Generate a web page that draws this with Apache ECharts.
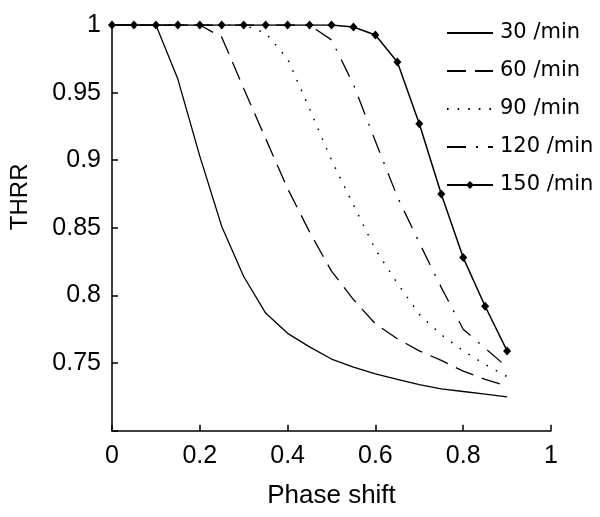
<!DOCTYPE html>
<html>
<head>
<meta charset="utf-8">
<script src="https://cdn.jsdelivr.net/npm/echarts@6/dist/echarts.min.js"></script>
<style>
html,body{margin:0;padding:0;background:#fff;}
#chart{width:600px;height:517px;}
</style>
</head>
<body>
<div id="chart"></div>
<script>
// Phase shift samples (x)
const phaseShift = [0, 0.05, 0.1, 0.15, 0.2, 0.25, 0.3, 0.35, 0.4, 0.45, 0.5, 0.55, 0.6, 0.65, 0.7, 0.75, 0.8, 0.85, 0.9];
// THRR values per heart rate
const thrr30  = [1, 1, 1, 0.960, 0.903, 0.851, 0.814, 0.787, 0.772, 0.762, 0.753, 0.747, 0.742, 0.738, 0.734, 0.731, 0.729, 0.727, 0.725];
const thrr60  = [1, 1, 1, 1, 1, 0.991, 0.953, 0.916, 0.879, 0.847, 0.818, 0.797, 0.779, 0.768, 0.759, 0.752, 0.744, 0.738, 0.733];
const thrr90  = [1, 1, 1, 1, 1, 1, 1, 0.994, 0.975, 0.938, 0.900, 0.867, 0.834, 0.809, 0.786, 0.771, 0.759, 0.749, 0.740];
const thrr120 = [1, 1, 1, 1, 1, 1, 1, 1, 1, 1, 0.989, 0.956, 0.914, 0.873, 0.839, 0.806, 0.775, 0.761, 0.747];
const thrr150 = [1, 1, 1, 1, 1, 1, 1, 1, 1, 1, 1, 0.9985, 0.9926, 0.9727, 0.927, 0.875, 0.828, 0.792, 0.759];
const seriesNames = ['30 /min', '60 /min', '90 /min', '120 /min', '150 /min'];

const FONT = "'Liberation Sans', Arial, sans-serif";
const LEGEND_FONT = "'DejaVu Sans', sans-serif";
const pairs = arr => phaseShift.map((x, i) => [x, arr[i]]);

const chart = echarts.init(document.getElementById('chart'), null, {renderer: 'canvas'});
const lineBase = {type: 'line', smooth: false, silent: true, symbol: 'none', z: 2};
const hiddenSymbol = {color: 'rgba(0,0,0,0)', borderColor: 'rgba(0,0,0,0)', borderWidth: 0, opacity: 0};

chart.setOption({
  animation: false,
  backgroundColor: '#fff',
  grid: {left: 106.5, right: 49, top: 25, bottom: 86.3, containLabel: false},
  legend: {
    orient: 'vertical',
    left: 446,
    top: 22,
    padding: 0,
    itemWidth: 46,
    itemHeight: 10,
    itemGap: 16,
    selectedMode: false,
    data: seriesNames.map((n, i) => (i < 4 ? {name: n, itemStyle: hiddenSymbol} : {name: n})),
    textStyle: {fontFamily: LEGEND_FONT, fontSize: 21, color: '#000', lineHeight: 22, padding: [0, 0, 0, 2]}
  },
  xAxis: {
    type: 'value', min: 0, max: 1, interval: 0.2,
    name: 'Phase shift', nameLocation: 'middle', nameGap: 52,
    nameTextStyle: {fontFamily: FONT, fontSize: 26, color: '#000'},
    axisLine: {show: true, onZero: false, lineStyle: {color: '#000', width: 1.5}},
    axisTick: {show: true, inside: true, length: 6, lineStyle: {color: '#000', width: 1.5}},
    axisLabel: {fontFamily: FONT, fontSize: 25, color: '#000', margin: 13,
      formatter: v => String(+v.toFixed(2))},
    splitLine: {show: false}
  },
  yAxis: {
    type: 'value', min: 0.7, max: 1, interval: 0.05,
    name: 'THRR', nameLocation: 'middle', nameGap: 80, nameRotate: 90,
    nameTextStyle: {fontFamily: FONT, fontSize: 24, color: '#000', padding: [0, 0, 0, 62]},
    axisLine: {show: true, onZero: false, lineStyle: {color: '#000', width: 1.5}},
    axisTick: {show: true, inside: true, length: 6, lineStyle: {color: '#000', width: 1.5}},
    axisLabel: {fontFamily: FONT, fontSize: 25, color: '#000', margin: 11,
      formatter: v => (Math.abs(v - 0.7) < 1e-9 ? '' : String(+v.toFixed(2)))},
    splitLine: {show: false}
  },
  series: [
    Object.assign({}, lineBase, {name: seriesNames[0], data: pairs(thrr30),
      lineStyle: {color: '#000', width: 1.3, type: 'solid'}, itemStyle: {color: '#000'}}),
    Object.assign({}, lineBase, {name: seriesNames[1], data: pairs(thrr60),
      lineStyle: {color: '#000', width: 1.3, type: [19, 9]}, itemStyle: {color: '#000'}}),
    Object.assign({}, lineBase, {name: seriesNames[2], data: pairs(thrr90),
      lineStyle: {color: '#000', width: 1.5, type: [1.6, 9]}, itemStyle: {color: '#000'}}),
    Object.assign({}, lineBase, {name: seriesNames[3], data: pairs(thrr120),
      lineStyle: {color: '#000', width: 1.3, type: [19, 10, 2, 10]}, itemStyle: {color: '#000'}}),
    Object.assign({}, lineBase, {name: seriesNames[4], data: pairs(thrr150), z: 3,
      symbol: 'diamond', symbolSize: [8, 9], showSymbol: true,
      lineStyle: {color: '#000', width: 1.5, type: 'solid'}, itemStyle: {color: '#000'}})
  ]
});
</script>
</body>
</html>
